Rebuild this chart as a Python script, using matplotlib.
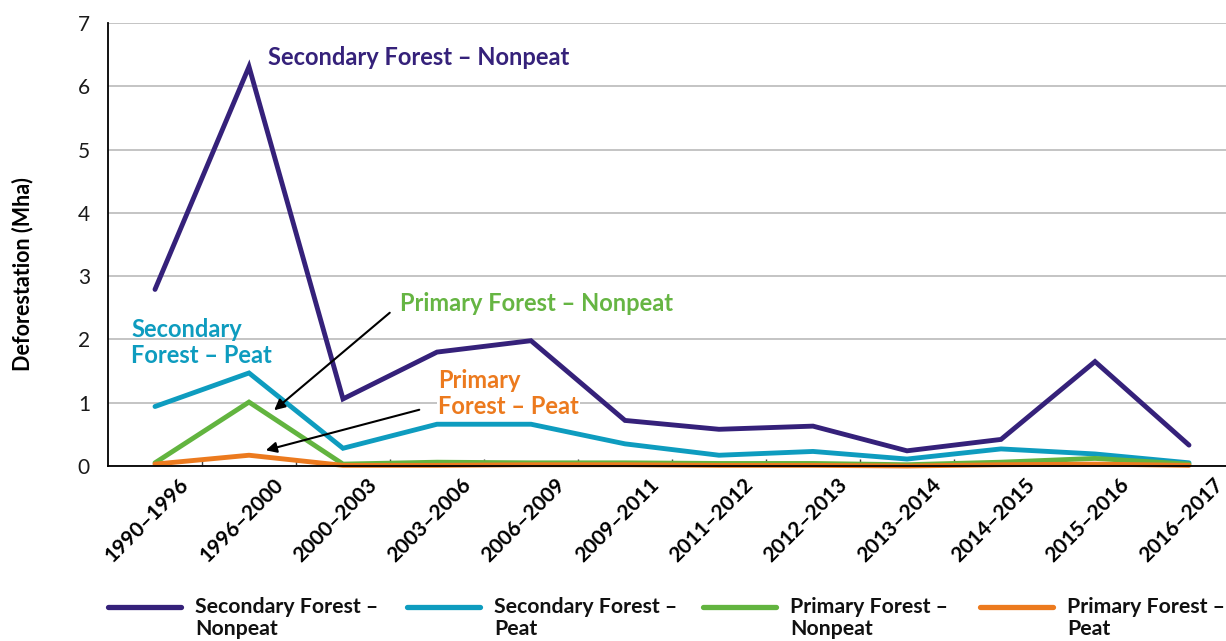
import matplotlib
matplotlib.use("Agg")
import matplotlib.pyplot as plt
import matplotlib.transforms as mtransforms
from matplotlib.lines import Line2D

plt.rcParams['font.family'] = ['Lato', 'DejaVu Sans']

periods = ["1990–1996", "1996–2000", "2000–2003", "2003–2006", "2006–2009",
           "2009–2011", "2011–2012", "2012–2013", "2013–2014", "2014–2015",
           "2015–2016", "2016–2017"]

secondary_nonpeat = [2.79, 6.31, 1.06, 1.80, 1.98, 0.72, 0.58, 0.63, 0.24, 0.42, 1.65, 0.33]
secondary_peat    = [0.94, 1.47, 0.28, 0.66, 0.66, 0.35, 0.17, 0.23, 0.11, 0.27, 0.19, 0.05]
primary_nonpeat   = [0.05, 1.01, 0.03, 0.06, 0.05, 0.05, 0.04, 0.04, 0.02, 0.06, 0.12, 0.03]
primary_peat      = [0.03, 0.17, 0.01, 0.01, 0.02, 0.02, 0.01, 0.01, 0.00, 0.02, 0.03, 0.01]

series_labels = ["Secondary Forest –\nNonpeat", "Secondary Forest –\nPeat",
                 "Primary Forest –\nNonpeat", "Primary Forest –\nPeat"]
colors = ["#35217A", "#0E9CBF", "#62B43F", "#EC7A1E"]
series = [secondary_nonpeat, secondary_peat, primary_nonpeat, primary_peat]

W, H = 1226, 641
fig = plt.figure(figsize=(W / 100, H / 100), dpi=100)
ax = fig.add_axes([108 / W, (H - 466) / H, 1128 / W, 443 / H])

x = list(range(len(periods)))
for vals, col in zip(series, colors):
    ax.plot(x, vals, color=col, lw=3.5, solid_joinstyle='miter',
            solid_capstyle='round', zorder=3, clip_on=False)

ax.set_xlim(-0.5, len(periods) - 0.5)
ax.set_ylim(0, 7)
ax.set_yticks(range(0, 8))
ax.yaxis.grid(True, color="#BFBFBF", lw=1.3)
ax.set_axisbelow(True)
for s in ["top", "right"]:
    ax.spines[s].set_visible(False)
for s in ["left", "bottom"]:
    ax.spines[s].set_color("black")
    ax.spines[s].set_linewidth(1.3)
    ax.spines[s].set_zorder(4)

ax.tick_params(axis='y', length=0, pad=13, labelsize=15, labelcolor="#1a1a1a")
ax.set_xticks(x)
ax.set_xticks([i + 0.5 for i in x[:-1]], minor=True)
ax.tick_params(axis='x', which='major', length=0)
ax.tick_params(axis='x', which='minor', direction='in', length=5, width=1, color="#404040")
ax.set_xticklabels(periods, rotation=45, ha='right', va='center',
                   rotation_mode='anchor', fontsize=15, fontweight='bold')
offset = mtransforms.ScaledTranslation(0.31, -0.11, fig.dpi_scale_trans)
for lbl in ax.get_xticklabels():
    lbl.set_transform(lbl.get_transform() + offset)

ax.set_ylabel("Deforestation (Mha)", fontsize=15.5, fontweight='bold')
ax.yaxis.set_label_coords(-75 / 1128, (466 - 274) / 443)

# series annotations
ax.text(1.20, 6.46, "Secondary Forest – Nonpeat", color=colors[0], fontsize=17,
        fontweight='bold', va='center', ha='left')
ax.text(-0.255, 1.95, "Secondary\nForest – Peat", color=colors[1], fontsize=17,
        fontweight='bold', va='center', ha='left', linespacing=1.12)
ax.text(2.61, 2.575, "Primary Forest – Nonpeat", color="#66B543", fontsize=17,
        fontweight='bold', va='center', ha='left')
ax.text(3.01, 1.145, "Primary\nForest – Peat", color=colors[3], fontsize=17,
        fontweight='bold', va='center', ha='left', linespacing=1.12,
        bbox=dict(facecolor='white', edgecolor='none', pad=1), zorder=2)

arrow_style = dict(arrowstyle='-|>', color='black', lw=1.5, mutation_scale=16)
ax.annotate("", xy=(1.245, 0.853), xytext=(2.52, 2.45), arrowprops=arrow_style, zorder=5)
ax.annotate("", xy=(1.15, 0.237), xytext=(2.84, 0.90), arrowprops=arrow_style, zorder=5)

# legend drawn along the bottom of the figure
handle_x = [108, 407, 703, 980]
leg_y = 607
for hx, col, lab in zip(handle_x, colors, series_labels):
    fig.add_artist(Line2D([hx / W, (hx + 73) / W], [(H - leg_y) / H] * 2,
                          color=col, lw=3.8, solid_capstyle='round',
                          transform=fig.transFigure))
    fig.text((hx + 87) / W, (H - 597) / H, lab, fontsize=15.3, fontweight='bold',
             color="#111111", va='top', ha='left', linespacing=1.14)

fig.savefig("out.png", dpi=100)
